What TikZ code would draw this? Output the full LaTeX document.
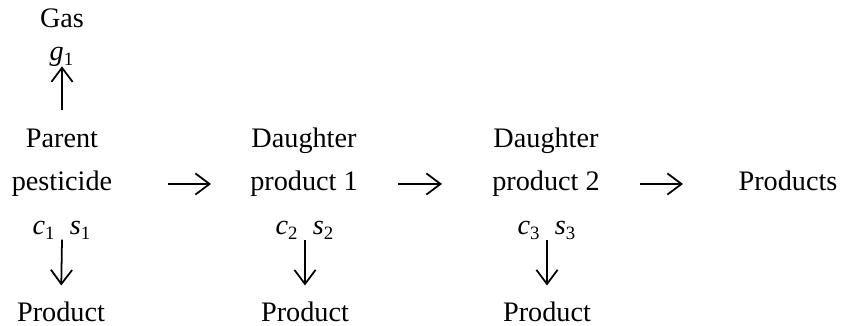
\documentclass[12pt,tikz,border=0pt]{standalone}
\usepackage{fontspec}
\setmainfont{Liberation Serif}
\usetikzlibrary{arrows.meta}
\newcommand{\rate}[2]{\textit{#1}\textsubscript{#2}}

\begin{document}
\begin{tikzpicture}[
  x=0.425pt, y=-0.425pt,
  txt/.style={inner sep=0pt, anchor=base},
  arr/.style={-{Straight Barb[length=6pt,width=9pt]}, line width=0.75pt},
  up/.style={arr, shorten <=8pt, shorten >=-0.5pt},
  dn/.style={arr, shorten >=7pt},
]
\useasboundingbox (0,0) rectangle (842,326);

% ---------------- parent pesticide, gas loss above ----------------
\node[txt] (gas)    at (62,28)  {Gas};
\node[txt] (g1)     at (62,61)  {\rate{g}{1}};
\node[txt] (parent) at (62,148) {Parent};
\node[txt] (pest)   at (62,191) {pesticide};
\node[txt] (cs1)    at (62,235) {\rate{c}{1}\hspace{0.5em}\rate{s}{1}};
\node[txt] (prod1)  at (61,322) {Product};

% ---------------- daughter products ----------------
\node[txt] (dau1)   at (304,148) {Daughter};
\node[txt] (dp1)    at (304,191) {product 1};
\node[txt] (cs2)    at (305,235) {\rate{c}{2}\hspace{0.5em}\rate{s}{2}};
\node[txt] (prod2)  at (305,322) {Product};

\node[txt] (dau2)   at (546,148) {Daughter};
\node[txt] (dp2)    at (546,191) {product 2};
\node[txt] (cs3)    at (547,235) {\rate{c}{3}\hspace{0.5em}\rate{s}{3}};
\node[txt] (prod3)  at (547,322) {Product};

\node[txt] (prods)  at (788,191) {Products};

% vertical arrows
\draw[up] (parent.north) -- (g1.south);
\draw[dn] (cs1.south) -- (prod1.north);
\draw[dn] (cs2.south) -- (prod2.north);
\draw[dn] (cs3.south) -- (prod3.north);

% horizontal chain arrows
\coordinate (h1a) at (168,184); \coordinate (h1b) at (211,184);
\coordinate (h2a) at (398,184); \coordinate (h2b) at (442,184);
\coordinate (h3a) at (640,184); \coordinate (h3b) at (683,184);
\draw[arr] (h1a) -- (h1b);
\draw[arr] (h2a) -- (h2b);
\draw[arr] (h3a) -- (h3b);

\end{tikzpicture}
\end{document}
